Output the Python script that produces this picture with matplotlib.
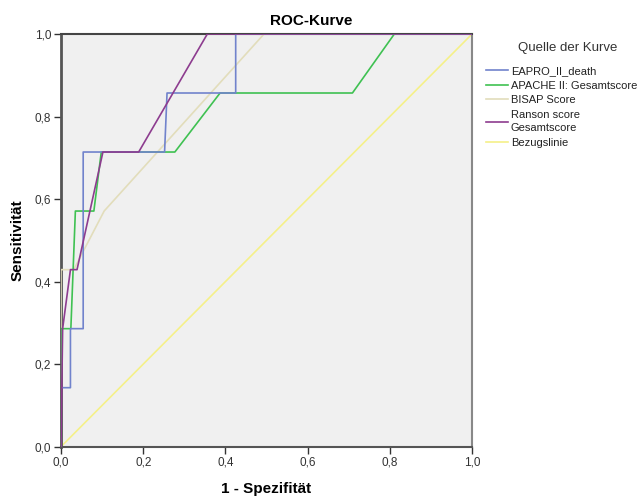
import matplotlib.pyplot as plt
from matplotlib.ticker import FuncFormatter

plt.rcParams['font.family'] = ['Liberation Sans', 'DejaVu Sans']

# ROC curve points (1 - specificity, sensitivity)
eapro_x = [0.0, 0.0, 0.023, 0.023, 0.054, 0.054, 0.252, 0.258, 0.425, 0.425, 1.0]
eapro_y = [0.0, 0.143, 0.143, 0.286, 0.286, 0.714, 0.714, 0.857, 0.857, 1.0, 1.0]

apache_x = [0.0, 0.0, 0.024, 0.035, 0.080, 0.098, 0.277, 0.387, 0.709, 0.811, 1.0]
apache_y = [0.0, 0.286, 0.286, 0.571, 0.571, 0.714, 0.714, 0.857, 0.857, 1.0, 1.0]

bisap_x = [0.0, 0.0, 0.031, 0.105, 0.494, 1.0]
bisap_y = [0.0, 0.429, 0.429, 0.571, 1.0, 1.0]

ranson_x = [0.0, 0.004, 0.023, 0.039, 0.102, 0.189, 0.356, 1.0]
ranson_y = [0.0, 0.286, 0.429, 0.429, 0.714, 0.714, 1.0, 1.0]

ref_x = [0.0, 1.0]
ref_y = [0.0, 1.0]

labels = ['EAPRO_II_death', 'APACHE II: Gesamtscore', 'BISAP Score',
          'Ranson score\nGesamtscore', 'Bezugslinie']
colors = ['#7183cc', '#3fc152', '#e2ddbb', '#8d3c8f', '#f5f089']

fig = plt.figure(figsize=(6.44, 4.99), dpi=100)
ax = fig.add_axes([0.0947, 0.1048, 0.6383, 0.8271])
ax.set_facecolor('#f0f0f0')

ax.plot(ref_x, ref_y, color=colors[4], lw=1.2, zorder=2)
ax.plot(bisap_x, bisap_y, color=colors[2], lw=1.2, zorder=3)
ax.plot(apache_x, apache_y, color=colors[1], lw=1.2, zorder=4)
ax.plot(eapro_x, eapro_y, color=colors[0], lw=1.2, zorder=5)
ax.plot(ranson_x, ranson_y, color=colors[3], lw=1.2, zorder=6)

ax.set_xlim(0, 1)
ax.set_ylim(0, 1)
ticks = [0, 0.2, 0.4, 0.6, 0.8, 1.0]
ax.set_xticks(ticks)
ax.set_yticks(ticks)
fmt = FuncFormatter(lambda v, p: ('%.1f' % v).replace('.', ','))
ax.xaxis.set_major_formatter(fmt)
ax.yaxis.set_major_formatter(fmt)
ax.tick_params(direction='out', length=5, width=1, labelsize=8.5,
               colors='#333333', pad=2)

ax.spines['left'].set_color('#555555')
ax.spines['left'].set_linewidth(2)
ax.spines['bottom'].set_color('#555555')
ax.spines['bottom'].set_linewidth(1.5)
ax.spines['top'].set_color('#444444')
ax.spines['top'].set_linewidth(1.5)
ax.spines['right'].set_color('#888888')
ax.spines['right'].set_linewidth(1.5)

ax.set_xlabel('1 - Spezifität', fontsize=11, fontweight='bold', labelpad=10)
ax.set_ylabel('Sensitivität', fontsize=11, fontweight='bold', labelpad=7)
fig.text(0.483, 0.958, 'ROC-Kurve', fontsize=11, fontweight='bold',
         ha='center', va='center')

fig.text(0.882, 0.904, 'Quelle der Kurve', fontsize=9.5, color='#333333',
         ha='center', va='center')
handles = [plt.Line2D([], [], color=c, lw=1.2) for c in colors]
leg = fig.legend(handles, labels, loc='upper left',
                 bbox_to_anchor=(0.755, 0.868), frameon=False,
                 fontsize=8, handlelength=2.0, handletextpad=0.2,
                 labelspacing=0.42, borderpad=0.0, borderaxespad=0.0)
for t in leg.get_texts():
    t.set_color('#222222')
    t.set_linespacing(1.45)

fig.savefig('out.png', dpi=100)
